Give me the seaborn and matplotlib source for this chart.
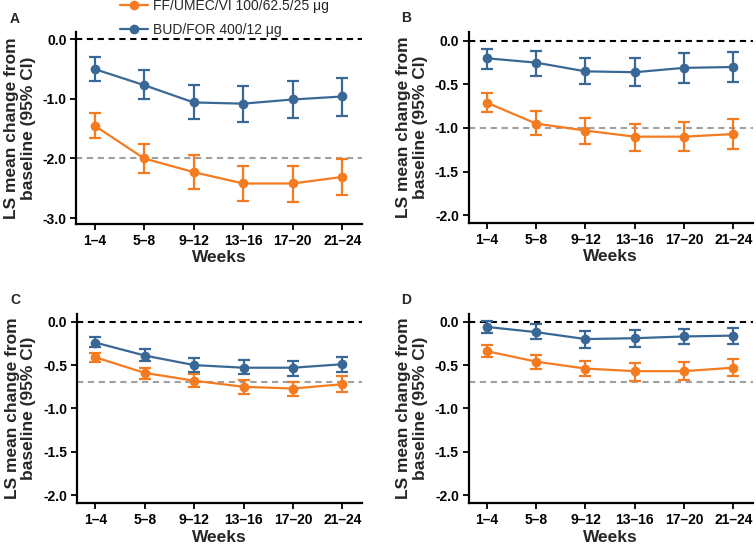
import matplotlib
matplotlib.use("Agg")
import matplotlib.pyplot as plt
import seaborn as sns
import pandas as pd
import numpy as np
from matplotlib.ticker import FuncFormatter

sns.set_theme(style="ticks")
plt.rcParams['font.family'] = ['Liberation Sans', 'DejaVu Sans']

weeks = ["1–4", "5–8", "9–12", "13–16", "17–20", "21–24"]
series_names = ["FF/UMEC/VI 100/62.5/25 μg", "BUD/FOR 400/12 μg"]
panel_letters = ["A", "B", "C", "D"]

# Panel A
a_ff = [-1.45, -2.00, -2.23, -2.42, -2.42, -2.31]
a_ff_lo = [-1.66, -2.25, -2.51, -2.71, -2.73, -2.62]
a_ff_hi = [-1.24, -1.75, -1.95, -2.12, -2.12, -2.01]
a_bud = [-0.50, -0.77, -1.06, -1.08, -1.01, -0.96]
a_bud_lo = [-0.70, -1.01, -1.33, -1.38, -1.32, -1.28]
a_bud_hi = [-0.29, -0.51, -0.77, -0.79, -0.70, -0.65]

# Panel B
b_ff = [-0.71, -0.95, -1.03, -1.10, -1.10, -1.07]
b_ff_lo = [-0.82, -1.08, -1.18, -1.26, -1.26, -1.24]
b_ff_hi = [-0.60, -0.81, -0.88, -0.95, -0.93, -0.90]
b_bud = [-0.20, -0.25, -0.35, -0.36, -0.31, -0.30]
b_bud_lo = [-0.32, -0.40, -0.50, -0.52, -0.48, -0.47]
b_bud_hi = [-0.09, -0.12, -0.20, -0.20, -0.14, -0.13]

# Panel C
c_ff = [-0.41, -0.59, -0.68, -0.75, -0.77, -0.72]
c_ff_lo = [-0.46, -0.66, -0.75, -0.83, -0.86, -0.81]
c_ff_hi = [-0.36, -0.53, -0.60, -0.67, -0.69, -0.63]
c_bud = [-0.24, -0.39, -0.50, -0.53, -0.53, -0.49]
c_bud_lo = [-0.29, -0.45, -0.58, -0.60, -0.62, -0.58]
c_bud_hi = [-0.18, -0.32, -0.42, -0.44, -0.45, -0.41]

# Panel D
d_ff = [-0.34, -0.46, -0.54, -0.57, -0.57, -0.53]
d_ff_lo = [-0.41, -0.55, -0.63, -0.68, -0.67, -0.63]
d_ff_hi = [-0.27, -0.38, -0.45, -0.48, -0.47, -0.43]
d_bud = [-0.06, -0.12, -0.20, -0.19, -0.17, -0.16]
d_bud_lo = [-0.13, -0.20, -0.30, -0.29, -0.26, -0.26]
d_bud_hi = [0.01, -0.03, -0.11, -0.10, -0.08, -0.07]

ref_lines = [-2.0, -1.0, -0.7, -0.7]
y_ticks_list = [[0.0, -1.0, -2.0, -3.0],
                [0.0, -0.5, -1.0, -1.5, -2.0],
                [0.0, -0.5, -1.0, -1.5, -2.0],
                [0.0, -0.5, -1.0, -1.5, -2.0]]

panels = [
    (a_ff, a_ff_lo, a_ff_hi, a_bud, a_bud_lo, a_bud_hi),
    (b_ff, b_ff_lo, b_ff_hi, b_bud, b_bud_lo, b_bud_hi),
    (c_ff, c_ff_lo, c_ff_hi, c_bud, c_bud_lo, c_bud_hi),
    (d_ff, d_ff_lo, d_ff_hi, d_bud, d_bud_lo, d_bud_hi),
]

colors = ["#F47B20", "#3A6896"]

fig = plt.figure(figsize=(7.56, 5.45), dpi=100)
positions = [
    [0.101, 0.589, 0.378, 0.352],
    [0.620, 0.591, 0.376, 0.350],
    [0.102, 0.077, 0.377, 0.347],
    [0.620, 0.077, 0.376, 0.347],
]
ylims = [(-3.1, 0.12), (-2.09, 0.10), (-2.09, 0.09), (-2.09, 0.09)]
letter_pos = [(15, 19), (406, 18), (15, 300), (406, 300)]

fmt = FuncFormatter(lambda v, p: ("%.1f" % v).replace("−", "-"))

for i, (pan, pos) in enumerate(zip(panels, positions)):
    ax = fig.add_axes(pos)
    ff, ff_lo, ff_hi, bud, bud_lo, bud_hi = pan
    x = np.arange(len(weeks))
    ax.axhline(0, color="black", lw=1.5, ls=(0, (3, 2.2)), zorder=1)
    ax.axhline(ref_lines[i], color="#A0A0A0", lw=1.5, ls=(0, (3, 2.2)), zorder=1)
    for vals, lo, hi, col, name in [(ff, ff_lo, ff_hi, colors[0], series_names[0]),
                                    (bud, bud_lo, bud_hi, colors[1], series_names[1])]:
        df = pd.DataFrame({"x": x, "y": vals})
        sns.lineplot(data=df, x="x", y="y", ax=ax, color=col, lw=1.6,
                     marker="o", markersize=7, markeredgewidth=0, label=name, zorder=3)
        yerr = np.array([np.array(vals) - np.array(lo), np.array(hi) - np.array(vals)])
        ax.errorbar(x, vals, yerr=yerr, fmt="none", ecolor=col, elinewidth=1.6,
                    capsize=4, capthick=1.6, zorder=3)
    ax.set_xlim(-0.37, 5.4)
    ax.set_ylim(*ylims[i])
    ax.set_yticks(y_ticks_list[i])
    ax.yaxis.set_major_formatter(fmt)
    ax.set_xticks(x)
    ax.set_xticklabels(weeks)
    for lab in ax.get_xticklabels() + ax.get_yticklabels():
        lab.set_fontweight("bold")
        lab.set_fontsize(10)
        lab.set_color("black")
    ax.tick_params(axis="both", direction="out", length=4, width=1.3, color="black", pad=3)
    for s in ["top", "right"]:
        ax.spines[s].set_visible(False)
    for s in ["left", "bottom"]:
        ax.spines[s].set_linewidth(1.6)
        ax.spines[s].set_color("black")
    ax.set_xlabel("Weeks", fontsize=12.5, fontweight="bold", labelpad=2)
    ax.set_ylabel("LS mean change from\nbaseline (95% CI)", fontsize=12.5,
                  fontweight="bold", labelpad=5, linespacing=1.15)
    ax.get_legend().remove()
    lx, ly = letter_pos[i]
    fig.text(lx / 756, 1 - ly / 545, panel_letters[i], fontsize=10, fontweight="bold",
             ha="center", va="center")
    if i == 0:
        handles, labels = ax.get_legend_handles_labels()
        fig.legend(handles[:2], labels[:2], loc="center left",
                   bbox_to_anchor=(120 / 756, 1 - 18 / 545), frameon=False,
                   fontsize=10, handlelength=2.0, handletextpad=0.4,
                   labelspacing=0.75, borderpad=0, borderaxespad=0)

fig.savefig("out.png", dpi=100)
